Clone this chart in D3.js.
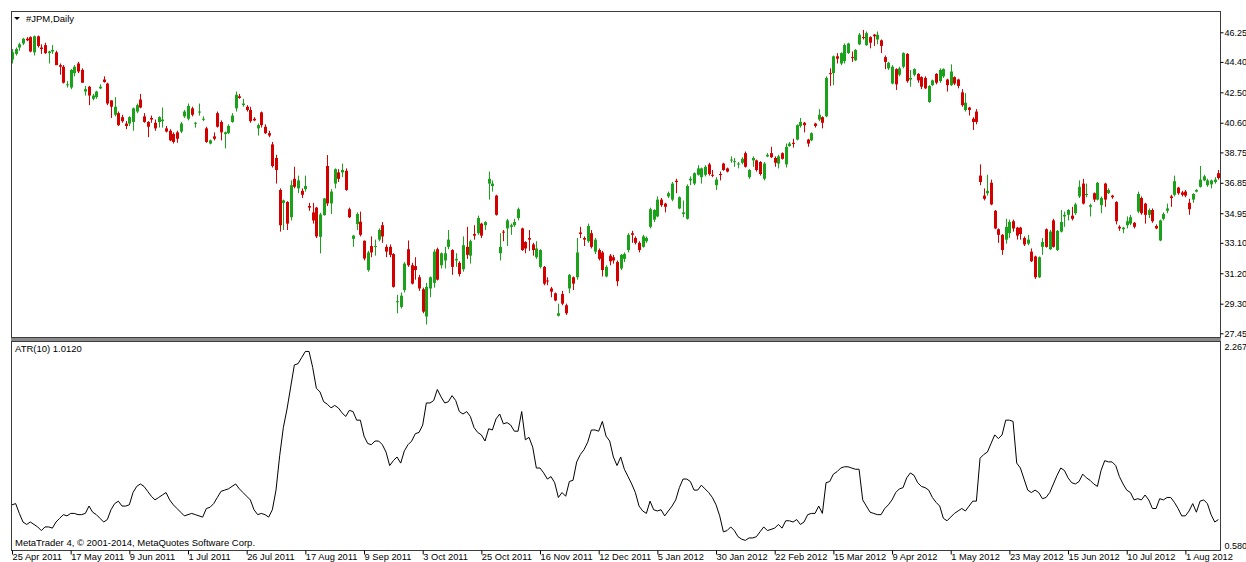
<!DOCTYPE html>
<html>
<head>
<meta charset="utf-8">
<script src="https://cdnjs.cloudflare.com/ajax/libs/d3/7.8.5/d3.min.js"></script>
<style>
  body { margin: 0; background: #fff; }
  svg text { font-family: "Liberation Sans", Arial, sans-serif; font-size: 9.5px; fill: #000; }
</style>
</head>
<body>
<div id="chart"></div>
<script>
// daily JPM bars, 25 Apr 2011 .. mid Aug 2012
var opens = [44.55,44.9,45.3,45.55,45.85,45.95,45.0,46.0,45.3,45.45,
  44.95,45.05,45.0,44.2,44.1,42.95,42.8,43.7,44.3,43.9,
  42.55,42.85,42.1,42.2,42.75,43.3,43.05,42.0,41.1,41.2,
  40.95,40.55,40.55,40.65,41.3,42.05,41.0,40.65,40.9,40.6,
  40.65,40.7,40.25,40.1,39.9,40.0,40.05,41.0,40.85,41.5,
  40.55,41.25,40.8,40.25,39.3,39.75,41.2,40.65,39.9,39.95,
  40.65,41.5,42.25,41.7,41.6,41.4,40.85,40.25,41.25,40.35,
  39.95,39.25,38.4,36.4,35.6,35.65,34.7,37.1,36.5,36.35,
  36.45,35.4,35.0,35.3,33.48,34.83,37.9,35.56,36.8,37.5,
  37.5,37.6,35.2,33.35,34.27,34.42,33.23,31.4,32.9,32.85,
  33.3,34.2,32.85,32.85,32.4,29.4,29.1,30.15,32.7,31.7,
  31.65,30.95,30.2,28.5,30.25,30.6,32.7,31.7,32.0,32.85,
  32.65,32.0,31.85,31.45,32.85,32.3,33.65,33.7,34.3,34.2,
  36.8,36.65,36.05,32.45,33.8,34.0,34.1,34.2,34.65,34.0,
  33.15,33.4,33.0,32.2,31.6,31.6,30.75,30.25,29.95,28.55,
  29.9,29.2,30.25,30.95,30.95,33.75,33.4,33.2,33.7,32.55,
  32.65,32.5,31.0,32.3,32.2,31.9,31.5,32.1,32.65,33.7,
  33.4,33.1,32.85,33.2,34.1,34.55,34.75,35.8,35.55,36.0,
  35.8,36.98,35.25,34.9,34.6,37.0,36.8,37.35,37.2,37.35,
  38.0,37.35,36.7,37.4,38.05,37.75,38.25,38.15,38.0,38.1,
  38.7,37.2,38.25,38.25,38.15,37.1,38.5,38.7,38.4,38.05,
  38.7,38.0,39.15,39.35,39.55,40.4,40.6,39.55,39.5,40.55,
  40.8,40.95,41.0,43.7,43.7,44.75,44.3,44.45,44.95,44.7,
  44.5,45.5,45.95,45.45,45.95,46.1,45.8,45.75,44.7,44.0,
  43.05,43.95,43.6,44.1,44.9,43.3,43.6,43.65,43.45,43.4,
  41.9,42.95,43.65,43.2,43.5,43.3,42.95,43.45,43.3,42.5,
  41.4,41.55,40.85,41.3,37.3,36.05,36.2,36.85,35.1,33.95,
  33.6,33.3,33.7,34.45,34.05,34.05,33.4,33.05,32.55,32.25,
  30.95,32.85,33.95,32.7,34.5,32.65,33.8,34.75,34.85,34.8,
  34.95,36.0,36.8,36.1,35.35,36.2,35.8,35.45,36.8,36.2,
  36.05,35.65,34.1,33.95,34.2,34.3,34.35,35.05,35.9,35.55,
  34.85,35.15,34.15,33.25,34.6,35.1,36.0,36.1,36.55,36.25,
  36.3,35.6,35.8,36.3,36.6,37.0,36.7,36.75,36.9,37.45];

var highs = [45.2,45.3,45.6,45.9,45.95,46.0,46.05,46.05,45.5,45.6,
  45.1,45.45,45.1,44.3,44.2,43.2,43.95,44.2,44.4,44.0,
  42.9,42.9,42.4,42.6,43.0,43.5,43.1,42.0,42.2,41.3,
  41.1,40.7,41.0,41.55,41.8,42.4,41.2,40.7,41.05,40.8,
  41.0,41.55,40.4,40.2,40.0,40.1,40.65,41.4,41.8,41.6,
  40.65,41.8,41.0,40.35,39.55,40.0,41.3,40.75,40.05,40.5,
  41.2,42.55,42.4,42.1,41.7,41.6,40.95,40.55,41.3,40.5,
  40.1,39.4,38.6,36.5,35.8,35.7,37.0,37.85,37.3,36.5,
  37.3,35.6,35.6,35.35,34.98,35.9,38.58,36.45,37.75,37.7,
  38.05,37.75,35.3,33.6,35.0,35.05,33.25,32.6,33.5,33.3,
  34.0,34.4,33.0,33.0,32.45,29.85,30.0,31.9,33.25,31.85,
  32.2,31.1,30.3,30.6,31.0,32.7,32.8,32.5,32.85,33.9,
  32.7,32.45,31.95,33.5,34.1,33.3,34.2,34.8,34.35,34.45,
  37.55,37.0,36.1,33.7,33.9,34.6,34.3,34.6,35.3,34.05,
  33.2,33.9,33.1,33.2,32.7,31.65,30.95,30.35,30.0,29.3,
  30.1,29.3,31.15,31.0,33.4,34.1,33.5,34.3,33.9,33.4,
  32.75,32.6,31.7,32.4,32.35,32.0,32.4,32.5,33.7,33.85,
  33.5,33.2,33.6,33.5,35.3,35.2,36.0,35.9,35.6,36.3,
  36.9,37.1,36.0,35.75,36.75,37.25,37.5,37.95,37.8,37.95,
  38.1,37.65,37.2,37.55,38.1,37.8,38.5,38.4,38.15,38.45,
  38.8,37.7,38.5,38.3,38.2,38.15,38.7,39.1,38.5,38.6,
  38.75,39.3,39.4,39.6,40.5,40.9,40.65,39.6,40.0,40.6,
  41.45,41.0,43.5,44.0,44.8,44.95,45.0,45.55,45.6,45.05,
  45.2,46.2,46.4,46.3,46.0,46.15,46.3,45.8,44.8,44.4,
  44.2,44.0,44.1,45.0,44.95,43.9,44.0,43.7,43.5,43.5,
  42.95,43.3,43.7,44.0,44.0,43.35,44.25,43.5,43.35,42.7,
  42.45,41.6,40.95,41.45,38.0,36.5,37.35,37.05,35.15,34.0,
  33.65,34.6,34.55,34.55,34.1,34.1,33.5,33.6,32.75,32.3,
  32.25,33.4,34.0,33.9,34.6,33.9,35.15,35.05,35.2,35.35,
  35.6,37.0,37.1,36.8,35.55,36.25,36.9,36.0,36.85,36.5,
  36.1,35.7,34.2,34.1,34.75,34.85,34.4,36.3,36.0,35.6,
  35.25,35.25,34.25,34.55,35.0,35.55,36.1,37.3,36.6,36.35,
  36.4,35.85,36.2,36.45,37.9,37.35,37.1,37.05,37.2,37.65];

var lows = [44.3,44.8,45.1,45.45,45.7,45.0,44.8,45.3,44.9,44.9,
  44.3,44.9,44.2,43.6,43.05,42.8,42.7,43.5,43.7,43.1,
  42.3,41.7,42.0,42.1,42.7,43.1,41.7,40.9,41.0,40.4,
  40.6,40.2,40.4,40.1,41.2,41.5,40.6,39.7,40.6,40.1,
  40.3,40.3,40.0,39.45,39.3,39.35,39.95,40.9,40.75,41.0,
  40.3,41.05,40.7,39.35,39.25,39.5,40.3,39.5,39.0,39.9,
  40.6,41.3,42.1,41.6,41.3,40.6,40.7,39.8,40.3,39.9,
  39.7,37.8,36.8,33.8,33.9,33.9,34.5,36.5,36.2,35.9,
  36.3,35.1,34.3,33.4,32.44,34.8,35.4,34.9,36.5,36.9,
  37.2,36.35,34.65,32.85,33.9,33.5,32.0,31.3,32.2,32.3,
  33.2,33.1,32.2,32.2,30.3,28.7,29.0,30.0,31.6,30.5,
  30.8,30.1,28.7,28.0,29.7,30.3,30.75,31.5,31.5,32.7,
  31.1,31.6,31.0,31.3,32.1,31.8,33.3,33.6,33.4,33.9,
  35.8,36.3,34.8,32.0,33.2,32.9,33.6,34.1,34.5,32.6,
  32.45,32.6,32.3,32.1,31.5,30.45,30.45,29.7,29.45,28.5,
  29.2,28.6,29.95,30.15,30.8,33.4,32.9,33.1,32.75,32.4,
  32.0,31.0,30.95,31.7,31.8,30.4,31.4,31.9,32.5,33.1,
  33.0,32.5,32.8,33.1,34.0,34.4,34.7,35.35,35.0,35.9,
  35.7,36.2,35.2,34.7,34.55,36.7,36.7,37.3,36.8,37.25,
  37.3,37.2,36.4,37.0,37.6,37.5,38.1,37.85,37.75,38.0,
  37.8,37.1,37.85,37.55,37.3,37.0,38.45,38.4,37.85,37.75,
  38.3,37.8,39.1,39.05,39.5,40.3,40.0,39.1,39.45,40.3,
  40.7,40.25,40.95,42.9,42.95,44.3,44.2,44.3,44.9,44.4,
  44.45,45.45,45.8,45.4,45.25,45.4,45.5,44.95,43.95,43.9,
  43.0,42.65,43.5,44.0,43.1,42.85,43.5,43.1,42.7,42.7,
  41.85,42.9,43.0,43.1,43.4,42.55,42.9,42.95,42.75,41.6,
  41.3,41.05,40.15,40.5,36.7,35.75,36.05,35.45,33.95,33.1,
  32.35,33.05,33.4,33.8,33.3,33.3,32.9,32.95,31.9,30.85,
  30.9,32.35,32.8,32.65,32.8,32.6,33.75,34.1,34.5,34.5,
  34.85,35.9,35.5,35.95,34.75,35.65,35.75,34.95,35.35,36.15,
  35.85,34.25,33.85,33.7,34.0,34.2,34.0,34.95,34.85,34.3,
  34.65,34.35,33.95,33.2,34.5,34.95,35.35,36.0,36.1,36.0,
  35.95,34.85,35.6,36.25,36.55,36.95,36.6,36.5,36.8,37.05];

var closes = [45.0,45.2,45.5,45.85,45.75,45.05,46.0,45.4,45.2,44.95,
  45.05,45.15,44.2,44.1,43.1,43.0,43.9,44.1,43.8,43.1,
  42.7,42.3,42.3,42.55,42.85,43.15,41.8,41.6,41.6,40.45,
  40.7,40.4,40.95,41.5,41.7,41.55,40.65,40.35,40.8,40.25,
  40.95,40.8,40.05,39.5,39.4,39.6,40.55,41.3,41.65,41.1,
  40.6,41.3,40.85,39.4,39.5,39.6,40.35,40.0,40.0,40.4,
  41.05,42.35,42.15,41.8,41.4,40.7,40.75,40.45,40.45,39.95,
  39.8,37.9,37.65,34.2,35.75,34.3,36.7,36.6,37.0,36.1,
  36.65,35.3,34.5,33.5,34.87,35.87,35.56,36.3,37.7,37.1,
  37.65,36.4,34.7,33.55,34.9,33.6,32.12,32.5,32.5,32.9,
  33.9,33.5,32.55,32.35,30.35,29.45,29.8,31.8,31.7,30.55,
  31.4,30.25,28.8,30.35,30.95,32.55,30.8,32.45,32.45,33.3,
  31.6,32.1,31.15,32.95,32.35,33.2,33.55,34.65,33.55,34.4,
  37.1,36.8,34.85,32.85,33.75,34.5,34.2,34.4,35.2,32.65,
  32.75,33.3,32.65,32.75,32.65,30.55,30.7,30.05,29.5,28.7,
  29.3,28.7,31.1,30.55,32.5,33.65,33.3,34.15,32.85,33.3,
  32.1,31.4,31.6,31.95,32.0,30.7,32.35,32.4,33.6,33.6,
  33.1,32.65,33.5,33.4,35.2,35.15,35.8,35.45,35.35,36.2,
  36.8,36.9,35.95,35.0,36.65,37.1,37.45,37.75,37.75,37.85,
  37.4,37.3,37.05,37.35,37.65,37.55,38.3,38.2,38.05,38.35,
  37.85,37.65,38.4,37.65,37.4,38.05,38.6,38.45,38.1,38.5,
  38.35,39.1,39.3,39.28,40.45,40.65,40.45,39.3,39.95,40.4,
  41.1,40.6,43.4,43.65,44.75,44.6,44.95,45.45,45.55,44.65,
  45.15,46.1,45.9,46.2,45.6,46.0,46.1,45.4,44.4,44.35,
  44.1,43.0,44.0,44.95,43.2,43.4,43.95,43.25,42.85,42.75,
  42.9,43.25,43.1,43.9,43.95,42.95,43.8,43.05,42.9,41.7,
  41.85,41.4,40.65,40.65,36.9,35.85,36.35,35.5,34.0,33.6,
  32.65,34.1,34.4,34.0,33.55,33.65,33.0,33.3,31.95,30.95,
  32.2,33.15,32.85,33.8,32.85,33.85,34.4,34.85,35.15,34.6,
  35.5,36.6,35.55,36.15,35.45,35.8,36.85,35.9,35.8,36.4,
  35.95,34.45,34.0,34.05,34.45,34.7,34.1,36.15,34.95,34.85,
  35.15,34.45,34.0,34.5,34.9,35.25,35.9,36.95,36.2,36.1,
  36.05,35.2,36.15,36.4,37.05,37.25,37.0,37.0,37.05,37.15];

// ATR(10), one value per bar
var atr = [0.94,0.95,0.87,0.80,0.78,0.80,0.78,0.76,0.73,0.76,
  0.76,0.75,0.80,0.83,0.86,0.85,0.87,0.87,0.86,0.86,
  0.87,0.93,0.88,0.86,0.83,0.80,0.82,0.90,0.95,0.97,
  0.93,0.93,0.94,1.04,1.09,1.11,1.09,1.05,1.01,0.98,
  1.00,1.02,1.04,0.98,0.94,0.91,0.88,0.85,0.86,0.87,
  0.86,0.85,0.84,0.91,0.92,0.95,1.00,1.05,1.06,1.07,
  1.09,1.11,1.07,1.04,1.01,0.98,0.90,0.86,0.87,0.86,
  0.84,0.90,1.06,1.34,1.57,1.72,1.90,2.08,2.09,2.14,
  2.19,2.19,2.06,1.89,1.86,1.78,1.76,1.73,1.75,1.73,
  1.69,1.66,1.71,1.70,1.63,1.63,1.50,1.44,1.43,1.46,
  1.46,1.43,1.37,1.26,1.30,1.33,1.28,1.38,1.43,1.46,
  1.52,1.53,1.59,1.77,1.77,1.79,1.88,1.82,1.77,1.78,
  1.83,1.79,1.70,1.68,1.70,1.66,1.57,1.53,1.51,1.46,
  1.56,1.55,1.64,1.68,1.60,1.61,1.59,1.54,1.54,1.70,
  1.47,1.49,1.41,1.24,1.24,1.20,1.15,1.17,1.12,1.00,
  1.04,1.01,1.13,1.14,1.29,1.35,1.39,1.45,1.55,1.55,
  1.54,1.62,1.50,1.46,1.33,1.26,1.33,1.23,1.17,1.11,
  1.04,0.93,0.89,0.87,0.97,0.90,0.89,0.90,0.85,0.89,
  0.93,0.98,1.08,1.15,1.15,1.13,1.06,1.06,1.10,1.07,
  1.04,1.00,0.94,0.85,0.72,0.73,0.76,0.73,0.68,0.66,
  0.65,0.67,0.67,0.68,0.72,0.76,0.73,0.74,0.75,0.78,
  0.75,0.81,0.81,0.80,0.82,0.78,0.80,0.86,0.87,0.87,
  0.93,0.87,1.12,1.13,1.19,1.21,1.24,1.25,1.25,1.24,
  1.23,1.23,0.98,0.93,0.88,0.87,0.86,0.86,0.91,0.94,
  0.98,1.04,1.07,1.08,1.16,1.20,1.18,1.12,1.09,1.08,
  1.06,1.00,0.96,0.93,0.83,0.81,0.84,0.87,0.89,0.91,
  0.89,0.93,0.97,0.97,1.32,1.35,1.37,1.44,1.51,1.48,
  1.51,1.63,1.63,1.62,1.28,1.24,1.15,1.06,1.04,1.06,
  1.04,0.99,1.00,1.04,1.11,1.18,1.24,1.22,1.16,1.12,
  1.11,1.13,1.19,1.16,1.14,1.11,1.09,1.22,1.30,1.29,
  1.29,1.26,1.17,1.11,1.06,1.04,0.98,0.99,0.98,1.02,
  0.98,0.91,0.91,0.99,0.98,1.00,1.00,0.96,0.91,0.85,
  0.85,0.89,0.95,0.88,0.97,0.98,0.95,0.86,0.80,0.82];

var priceTicks = [46.25, 44.40, 42.50, 40.60, 38.75, 36.85, 34.95, 33.10, 31.20, 29.30, 27.45];
var atrTicks = [2.267, 0.580];

var dateTickBars = [0, 16, 32, 48, 64, 80, 96, 112, 128, 144, 160, 176, 192, 208, 224, 240, 256, 272, 288, 304, 320];
var dateTickLabels = ["25 Apr 2011", "17 May 2011", "9 Jun 2011", "1 Jul 2011", "26 Jul 2011", "17 Aug 2011",
  "9 Sep 2011", "3 Oct 2011", "25 Oct 2011", "16 Nov 2011", "12 Dec 2011", "5 Jan 2012", "30 Jan 2012",
  "22 Feb 2012", "15 Mar 2012", "9 Apr 2012", "1 May 2012", "23 May 2012", "15 Jun 2012", "10 Jul 2012", "1 Aug 2012"];

var width = 1246,
    height = 562;

var frameLeft = 11,
    frameRight = 1220,
    priceTop = 11,
    priceBottom = 337,
    atrTop = 341,
    atrBottom = 550;

var bullColor = "#1aa31a",
    bearColor = "#d40000";

var svg = d3.select("#chart")
            .append("svg")
              .attr("width", width)
              .attr("height", height);

// scales
var xScale = d3.scaleLinear()
                .domain([0, opens.length - 1])
                .range([12, 1218.4]);

var yPrice = d3.scaleLinear()
                .domain([27.45, 46.25])
                .range([333.3, 32.3]);

var yAtr = d3.scaleLinear()
              .domain([0.580, 2.267])
              .range([549, 342]);

var bars = opens.map(function(o, i) {
  return {i: i, open: o, high: highs[i], low: lows[i], close: closes[i]};
});

// clip paths for both windows
var defs = svg.append("defs");
defs.append("clipPath").attr("id", "clip-price")
  .append("rect")
    .attr("x", frameLeft + 1).attr("y", priceTop + 1)
    .attr("width", frameRight - frameLeft - 1).attr("height", priceBottom - priceTop - 1);
defs.append("clipPath").attr("id", "clip-atr")
  .append("rect")
    .attr("x", frameLeft + 1).attr("y", atrTop + 1)
    .attr("width", frameRight - frameLeft - 1).attr("height", atrBottom - atrTop - 1);

// candles
var candles = svg.append("g")
                  .attr("clip-path", "url(#clip-price)")
                .selectAll(".candle")
                  .data(bars)
                .enter().append("g")
                  .attr("class", "candle");

candles.append("line")
  .attr("x1", function(d) { return Math.round(xScale(d.i)) + 0.5; })
  .attr("x2", function(d) { return Math.round(xScale(d.i)) + 0.5; })
  .attr("y1", function(d) { return yPrice(d.high); })
  .attr("y2", function(d) { return yPrice(d.low); })
  .attr("stroke", function(d) { return d.close >= d.open ? bullColor : bearColor; })
  .attr("stroke-width", 1);

candles.append("rect")
  .attr("x", function(d) { return Math.round(xScale(d.i)) - 1; })
  .attr("width", 3)
  .attr("y", function(d) { return yPrice(Math.max(d.open, d.close)); })
  .attr("height", function(d) { return Math.max(1, Math.abs(yPrice(d.open) - yPrice(d.close))); })
  .attr("fill", function(d) { return d.close >= d.open ? bullColor : bearColor; });

// atr line
var atrLine = d3.line()
                .x(function(d, i) { return xScale(i); })
                .y(function(d) { return yAtr(d); });

svg.append("path")
  .datum(atr)
  .attr("clip-path", "url(#clip-atr)")
  .attr("d", atrLine)
  .attr("fill", "none")
  .attr("stroke", "#000")
  .attr("stroke-width", 1);

// window frames
svg.append("rect")
  .attr("x", frameLeft + 0.5).attr("y", priceTop + 0.5)
  .attr("width", frameRight - frameLeft).attr("height", priceBottom - priceTop)
  .attr("fill", "none").attr("stroke", "#3c3c3c");

svg.append("rect")
  .attr("x", frameLeft).attr("y", priceBottom + 1)
  .attr("width", frameRight - frameLeft + 1).attr("height", atrTop - priceBottom - 1)
  .attr("fill", "#8a8a8a");

svg.append("rect")
  .attr("x", frameLeft + 0.5).attr("y", atrTop + 0.5)
  .attr("width", frameRight - frameLeft).attr("height", atrBottom - atrTop)
  .attr("fill", "none").attr("stroke", "#3c3c3c");

// price axis
var priceAxis = d3.axisRight(yPrice)
                  .tickValues(priceTicks)
                  .tickSize(3)
                  .tickPadding(1)
                  .tickFormat(d3.format(".2f"));

svg.append("g")
    .attr("class", "axis axis-price")
    .attr("transform", "translate(" + (frameRight + 0.5) + ",0)")
    .call(priceAxis)
    .call(function(g) { g.select(".domain").remove(); });

// atr axis, labels pushed inside the window
var atrAxis = d3.axisRight(yAtr)
                .tickValues(atrTicks)
                .tickSize(0)
                .tickPadding(4)
                .tickFormat(d3.format(".3f"));

svg.append("g")
    .attr("class", "axis axis-atr")
    .attr("transform", "translate(" + (frameRight + 0.5) + ",0)")
    .call(atrAxis)
    .call(function(g) {
      g.select(".domain").remove();
      g.selectAll(".tick text").attr("dy", function(d) { return d === 2.267 ? "0.8em" : "-0.1em"; });
    });

// date axis
var dateAxis = d3.axisBottom(xScale)
                  .tickValues(dateTickBars)
                  .tickSize(4)
                  .tickFormat(function(d, i) { return dateTickLabels[i]; });

svg.append("g")
    .attr("class", "axis axis-date")
    .attr("transform", "translate(0," + (atrBottom + 0.5) + ")")
    .call(dateAxis)
    .call(function(g) {
      g.select(".domain").remove();
      g.selectAll(".tick text").attr("text-anchor", "start").attr("x", 0).attr("y", 3).attr("dy", "0.71em");
    });

svg.selectAll(".axis .tick line").attr("stroke", "#000");
svg.selectAll(".axis text").attr("fill", "#000").style("font-family", "'Liberation Sans', Arial, sans-serif").style("font-size", "9.3px");
svg.selectAll(".axis-price text, .axis-atr text").style("font-size", "9px");

// window captions
svg.append("path")
  .attr("d", "M14,17 L20,17 L17,20 Z")
  .attr("fill", "#000");

svg.append("text")
  .attr("x", 26)
  .attr("y", 21.5)
  .text("#JPM,Daily");

svg.append("text")
  .attr("x", 15)
  .attr("y", 352)
  .text("ATR(10) 1.0120");

svg.append("text")
  .attr("x", 15)
  .attr("y", 546)
  .text("MetaTrader 4, \u00a9 2001-2014, MetaQuotes Software Corp.");
</script>
</body>
</html>
